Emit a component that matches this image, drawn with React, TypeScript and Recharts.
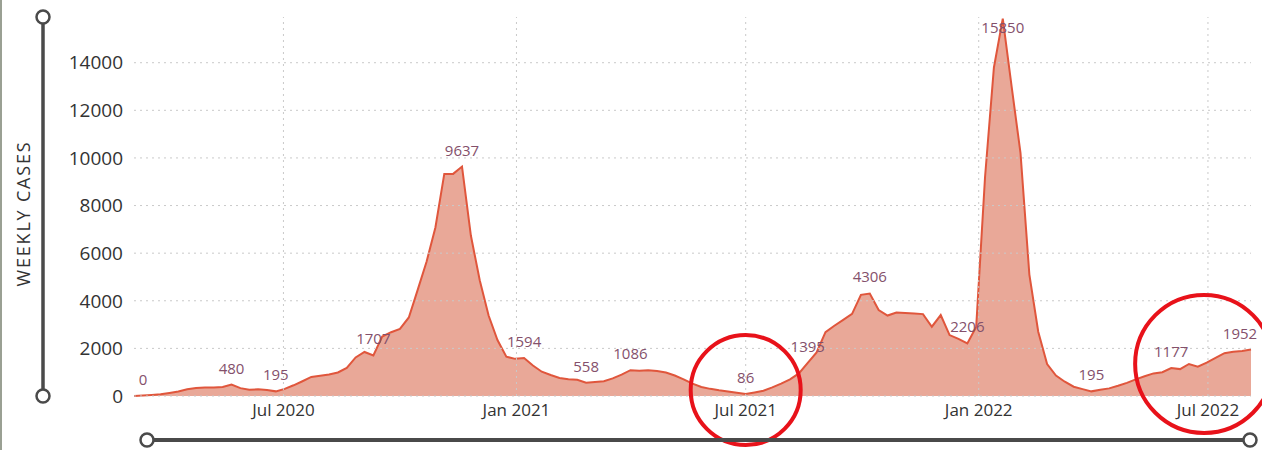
import React from 'react';
import { AreaChart, Area, XAxis, YAxis, LabelList, ReferenceDot, ReferenceLine } from 'recharts';

// ---- data ----
const startDate = '2020-03-05';
const weeklyCases = [
  0, 20, 45, 70, 130, 190, 280, 340, 360, 360,
  380, 480, 330, 260, 280, 250, 195, 300, 450, 620,
  800, 850, 900, 990, 1180, 1620, 1850, 1707, 2500, 2680,
  2820, 3300, 4460, 5640, 7080, 9330, 9330, 9637, 6740, 4860,
  3380, 2350, 1650, 1560, 1594, 1280, 1020, 880, 760, 700,
  680, 558, 590, 620, 740, 900, 1086, 1060, 1080, 1050,
  990, 860, 700, 520, 380, 300, 240, 190, 140, 86,
  150, 220, 360, 520, 700, 950, 1395, 1830, 2680, 2950,
  3200, 3450, 4250, 4306, 3610, 3380, 3510, 3490, 3470, 3440,
  2910, 3400, 2560, 2400, 2206, 2900, 9200, 13800, 15850, 13000,
  10200, 5100, 2700, 1340, 860, 600, 390, 290, 195, 260,
  320, 430, 550, 700, 830, 950, 1000, 1177, 1130, 1345,
  1230, 1400, 1600, 1800, 1860, 1890, 1952,
];
const labeledWeeks = [0, 11, 16, 27, 37, 44, 51, 56, 69, 76, 83, 94, 98, 108, 117, 126];
const xTickDates = ['2020-07-01', '2021-01-01', '2021-07-01', '2022-01-01', '2022-07-01'];
const yTicks = [0, 2000, 4000, 6000, 8000, 10000, 12000, 14000];
const yMax = 15920;
const annotationDates = ['2021-07-01', '2022-06-28'];
const annotationValues = [250, 1345];
const annotationRadii = [55, 69];
const monthNames = ['Jan', 'Feb', 'Mar', 'Apr', 'May', 'Jun', 'Jul', 'Aug', 'Sep', 'Oct', 'Nov', 'Dec'];

// ---- helpers ----
const DAY = 86400000;
const toTs = (s: string) => Date.parse(s + 'T00:00:00Z');
const start = toTs(startDate);
const data = weeklyCases.map((v, i) => ({ t: start + i * 7 * DAY, cases: v }));
const xTicks = xTickDates.map(toTs);
const fmtDate = (t: number) => {
  const d = new Date(t);
  return `${monthNames[d.getUTCMonth()]} ${d.getUTCFullYear()}`;
};

const FONT = "'Segoe UI', 'Open Sans', sans-serif";
const LINE = '#e0563c';
const FILL = '#e9a898';
const LABEL = '#84506b';
const TEXT = '#333333';
const SLIDER = '#4a4a4a';
const GRID = '#c9c9c9';

const renderLabel = (props: any) => {
  const { x, y, value, index } = props;
  if (!labeledWeeks.includes(index)) return null;
  let lx = x;
  if (index === 0) lx = x + 9;
  if (index === weeklyCases.length - 1) lx = x - 11;
  const ly = y < 40 ? y + 14 : y - 11;
  return (
    <text x={lx} y={ly} textAnchor="middle" fontSize={15} fill={LABEL} fontFamily={FONT}>
      {value}
    </text>
  );
};

const YTitle = (props: any) => {
  const { x, y, height } = props.viewBox;
  return (
    <text
      transform={`translate(${x + 23},${y + height / 2 + 7}) rotate(-90)`}
      textAnchor="middle"
      dominantBaseline="central"
      fontSize={18}
      letterSpacing={1.8}
      fill={TEXT}
      fontFamily={FONT}
    >
      WEEKLY CASES
    </text>
  );
};

const Ring = (props: any) => {
  const { cx, cy, r } = props;
  return <circle cx={cx} cy={cy} r={r} fill="none" stroke="#e8121a" strokeWidth={4} />;
};

export default function App() {
  return (
    <div style={{ position: 'absolute', left: 0, top: 0, width: 1262, height: 450, background: '#fff', overflow: 'hidden' }}>
      <AreaChart
        width={1262}
        height={450}
        data={data}
        margin={{ top: 17, right: 11, bottom: 24, left: 0 }}
      >
        {yTicks.map((v) => (
          <ReferenceLine key={'h' + v} y={v} stroke={GRID} strokeDasharray="2 4" />
        ))}
        {xTicks.map((t) => (
          <ReferenceLine key={'v' + t} x={t} stroke={GRID} strokeDasharray="2 4" />
        ))}
        <XAxis
          dataKey="t"
          type="number"
          domain={['dataMin', 'dataMax']}
          ticks={xTicks}
          tickFormatter={fmtDate}
          axisLine={false}
          tickLine={false}
          height={30}
          tick={{ fill: TEXT, fontSize: 17, fontFamily: FONT }}
        />
        <YAxis
          type="number"
          domain={[0, yMax]}
          ticks={yTicks}
          width={134}
          axisLine={false}
          tickLine={false}
          tickMargin={5}
          tick={{ fill: TEXT, fontSize: 19, fontFamily: FONT }}
          label={{ content: <YTitle /> } as any}
        />
        <Area
          type="linear"
          dataKey="cases"
          stroke={LINE}
          strokeWidth={2}
          fill={FILL}
          fillOpacity={1}
          isAnimationActive={false}
          dot={false}
          activeDot={false}
        >
          <LabelList dataKey="cases" content={renderLabel} />
        </Area>
        {annotationDates.map((d, i) => (
          <ReferenceDot
            key={d}
            x={toTs(d)}
            y={annotationValues[i]}
            r={annotationRadii[i]}
            ifOverflow="visible"
            shape={Ring}
          />
        ))}
      </AreaChart>
      <svg width={1262} height={450} style={{ position: 'absolute', left: 0, top: 0, pointerEvents: 'none' }}>
        <line x1={1} y1={0} x2={1} y2={450} stroke="#9aa093" strokeWidth={2} />
        <line x1={43} y1={17} x2={43} y2={396} stroke={SLIDER} strokeWidth={3.5} />
        <circle cx={43} cy={17} r={6.5} fill="#fff" stroke={SLIDER} strokeWidth={2.5} />
        <circle cx={43} cy={396} r={6.5} fill="#fff" stroke={SLIDER} strokeWidth={2.5} />
        <line x1={147} y1={440} x2={1250} y2={440} stroke={SLIDER} strokeWidth={4} />
        <circle cx={147} cy={440} r={6.5} fill="#fff" stroke={SLIDER} strokeWidth={2.5} />
        <circle cx={1250} cy={440} r={6.5} fill="#fff" stroke={SLIDER} strokeWidth={2.5} />
      </svg>
    </div>
  );
}
